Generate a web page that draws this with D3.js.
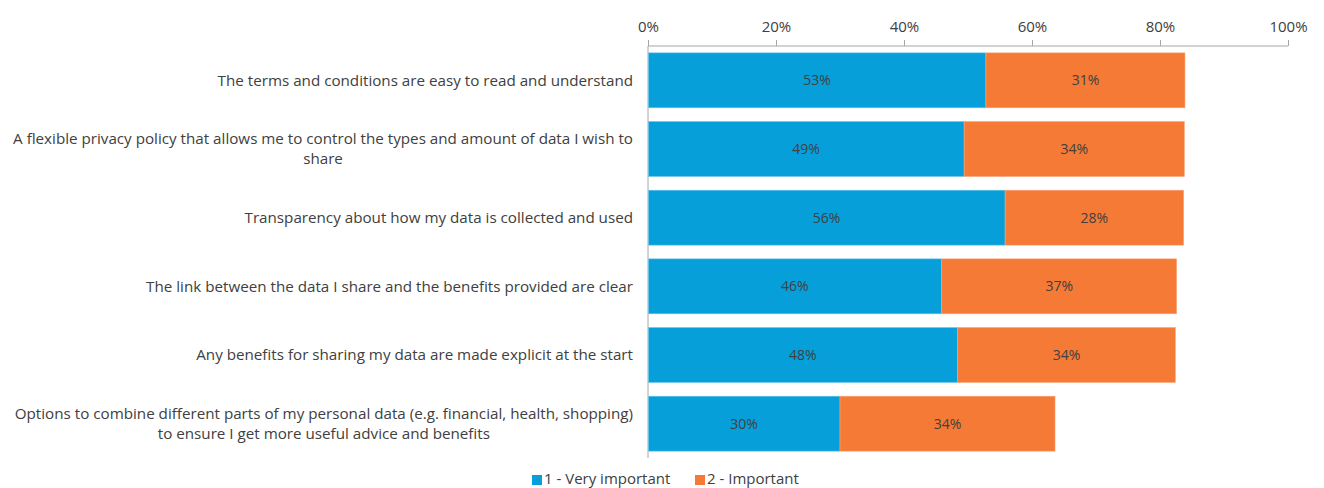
<!DOCTYPE html>
<html>
<head>
<meta charset="utf-8">
<script src="https://cdn.jsdelivr.net/npm/d3@7"></script>
<style>
  body { margin: 0; background: #fff; }
  text { font-family: "Open Sans", sans-serif; fill: #404040; }
</style>
</head>
<body>
<div id="chart"></div>
<script>
var width = 1324,
    height = 488;

// categories (each entry is a list of label lines)
var categories = [
    ["The terms and conditions are easy to read and understand"],
    ["A flexible privacy policy that allows me to control the types and amount of data I wish to", "share"],
    ["Transparency about how my data is collected and used"],
    ["The link between the data I share and the benefits provided are clear"],
    ["Any benefits for sharing my data are made explicit at the start"],
    ["Options to combine different parts of my personal data (e.g. financial, health, shopping)", "to ensure I get more useful advice and benefits"]
];
var veryImportant = [52.8, 49.4, 55.8, 45.9, 48.4, 30.0];
var important = [31.1, 34.4, 27.9, 36.7, 34.0, 33.6];
var seriesNames = ["1 - Very important", "2 - Important"];
var ticks = [0, 20, 40, 60, 80, 100];

var colors = ["#079fd9", "#f47a35"];

var xScale = d3.scaleLinear().domain([0, 100]).range([648, 1288]);
var yScale = d3.scaleBand().domain(d3.range(categories.length)).range([46, 458]).paddingInner(0.2).paddingOuter(0.1);

var svg = d3.select("#chart").append("svg")
    .attr("width", width)
    .attr("height", height);

// top axis
var xAxis = d3.axisTop(xScale)
    .tickValues(ticks)
    .tickFormat(function(d) { return d + "%"; })
    .tickSize(6)
    .tickPadding(8);

var axisG = svg.append("g")
    .attr("transform", "translate(0,46)")
    .call(xAxis);
axisG.select(".domain").attr("stroke", "#a6a6a6").attr("d", "M648,0H1288");
axisG.selectAll(".tick line").attr("stroke", "#a6a6a6");
axisG.selectAll(".tick text")
    .style("font-family", "'Open Sans', sans-serif")
    .style("font-size", "15px")
    .attr("fill", "#404040");

// left axis line
svg.append("line")
    .attr("x1", xScale(0)).attr("x2", xScale(0))
    .attr("y1", 46).attr("y2", 458)
    .attr("stroke", "#a6a6a6");

var rows = categories.map(function(c, i) {
    return { i: i, lines: c, v1: veryImportant[i], v2: important[i] };
});

var rowG = svg.selectAll(".row").data(rows).enter().append("g").attr("class", "row");

// blue segments
rowG.append("rect")
    .attr("x", xScale(0) + 0.5)
    .attr("y", function(d) { return yScale(d.i); })
    .attr("width", function(d) { return xScale(d.v1) - xScale(0) - 0.5; })
    .attr("height", yScale.bandwidth())
    .attr("fill", colors[0])
    .attr("stroke", "#6cc6ea")
    .attr("stroke-width", 0.6);

// orange segments
rowG.append("rect")
    .attr("x", function(d) { return xScale(d.v1); })
    .attr("y", function(d) { return yScale(d.i); })
    .attr("width", function(d) { return xScale(d.v1 + d.v2) - xScale(d.v1); })
    .attr("height", yScale.bandwidth())
    .attr("fill", colors[1])
    .attr("stroke", "#f8a57a")
    .attr("stroke-width", 0.6);

// value labels
rowG.append("text")
    .attr("x", function(d) { return (xScale(0) + xScale(d.v1)) / 2; })
    .attr("y", function(d) { return yScale(d.i) + yScale.bandwidth() / 2; })
    .attr("dy", "0.35em")
    .attr("text-anchor", "middle")
    .style("font-size", "14px")
    .text(function(d) { return Math.round(d.v1) + "%"; });

rowG.append("text")
    .attr("x", function(d) { return (xScale(d.v1) + xScale(d.v1 + d.v2)) / 2; })
    .attr("y", function(d) { return yScale(d.i) + yScale.bandwidth() / 2; })
    .attr("dy", "0.35em")
    .attr("text-anchor", "middle")
    .style("font-size", "14px")
    .text(function(d) { return Math.round(d.v2) + "%"; });

// category labels, right aligned block with centered lines
rowG.each(function(d) {
    var g = d3.select(this);
    var lineH = 20;
    var cy = yScale(d.i) + yScale.bandwidth() / 2;
    var t = g.append("text")
        .style("font-size", "15.2px")
        .attr("text-anchor", "middle");
    d.lines.forEach(function(line, k) {
        t.append("tspan")
            .attr("y", cy + (k - (d.lines.length - 1) / 2) * lineH)
            .attr("dy", "0.35em")
            .text(line);
    });
    var maxW = 0;
    t.selectAll("tspan").each(function() {
        maxW = Math.max(maxW, this.getComputedTextLength());
    });
    t.selectAll("tspan").attr("x", xScale(0) - 15 - maxW / 2);
});

// legend
var legend = svg.append("g").attr("transform", "translate(532,479)");
var legendX = [0, 163];
seriesNames.forEach(function(name, i) {
    var lg = legend.append("g").attr("transform", "translate(" + legendX[i] + ",0)");
    lg.append("rect")
        .attr("x", 0).attr("y", -4)
        .attr("width", 10).attr("height", 10)
        .attr("fill", colors[i]);
    lg.append("text")
        .attr("x", 12)
        .attr("dy", "0.35em")
        .style("font-size", "15px")
        .text(name);
});
</script>
</body>
</html>
